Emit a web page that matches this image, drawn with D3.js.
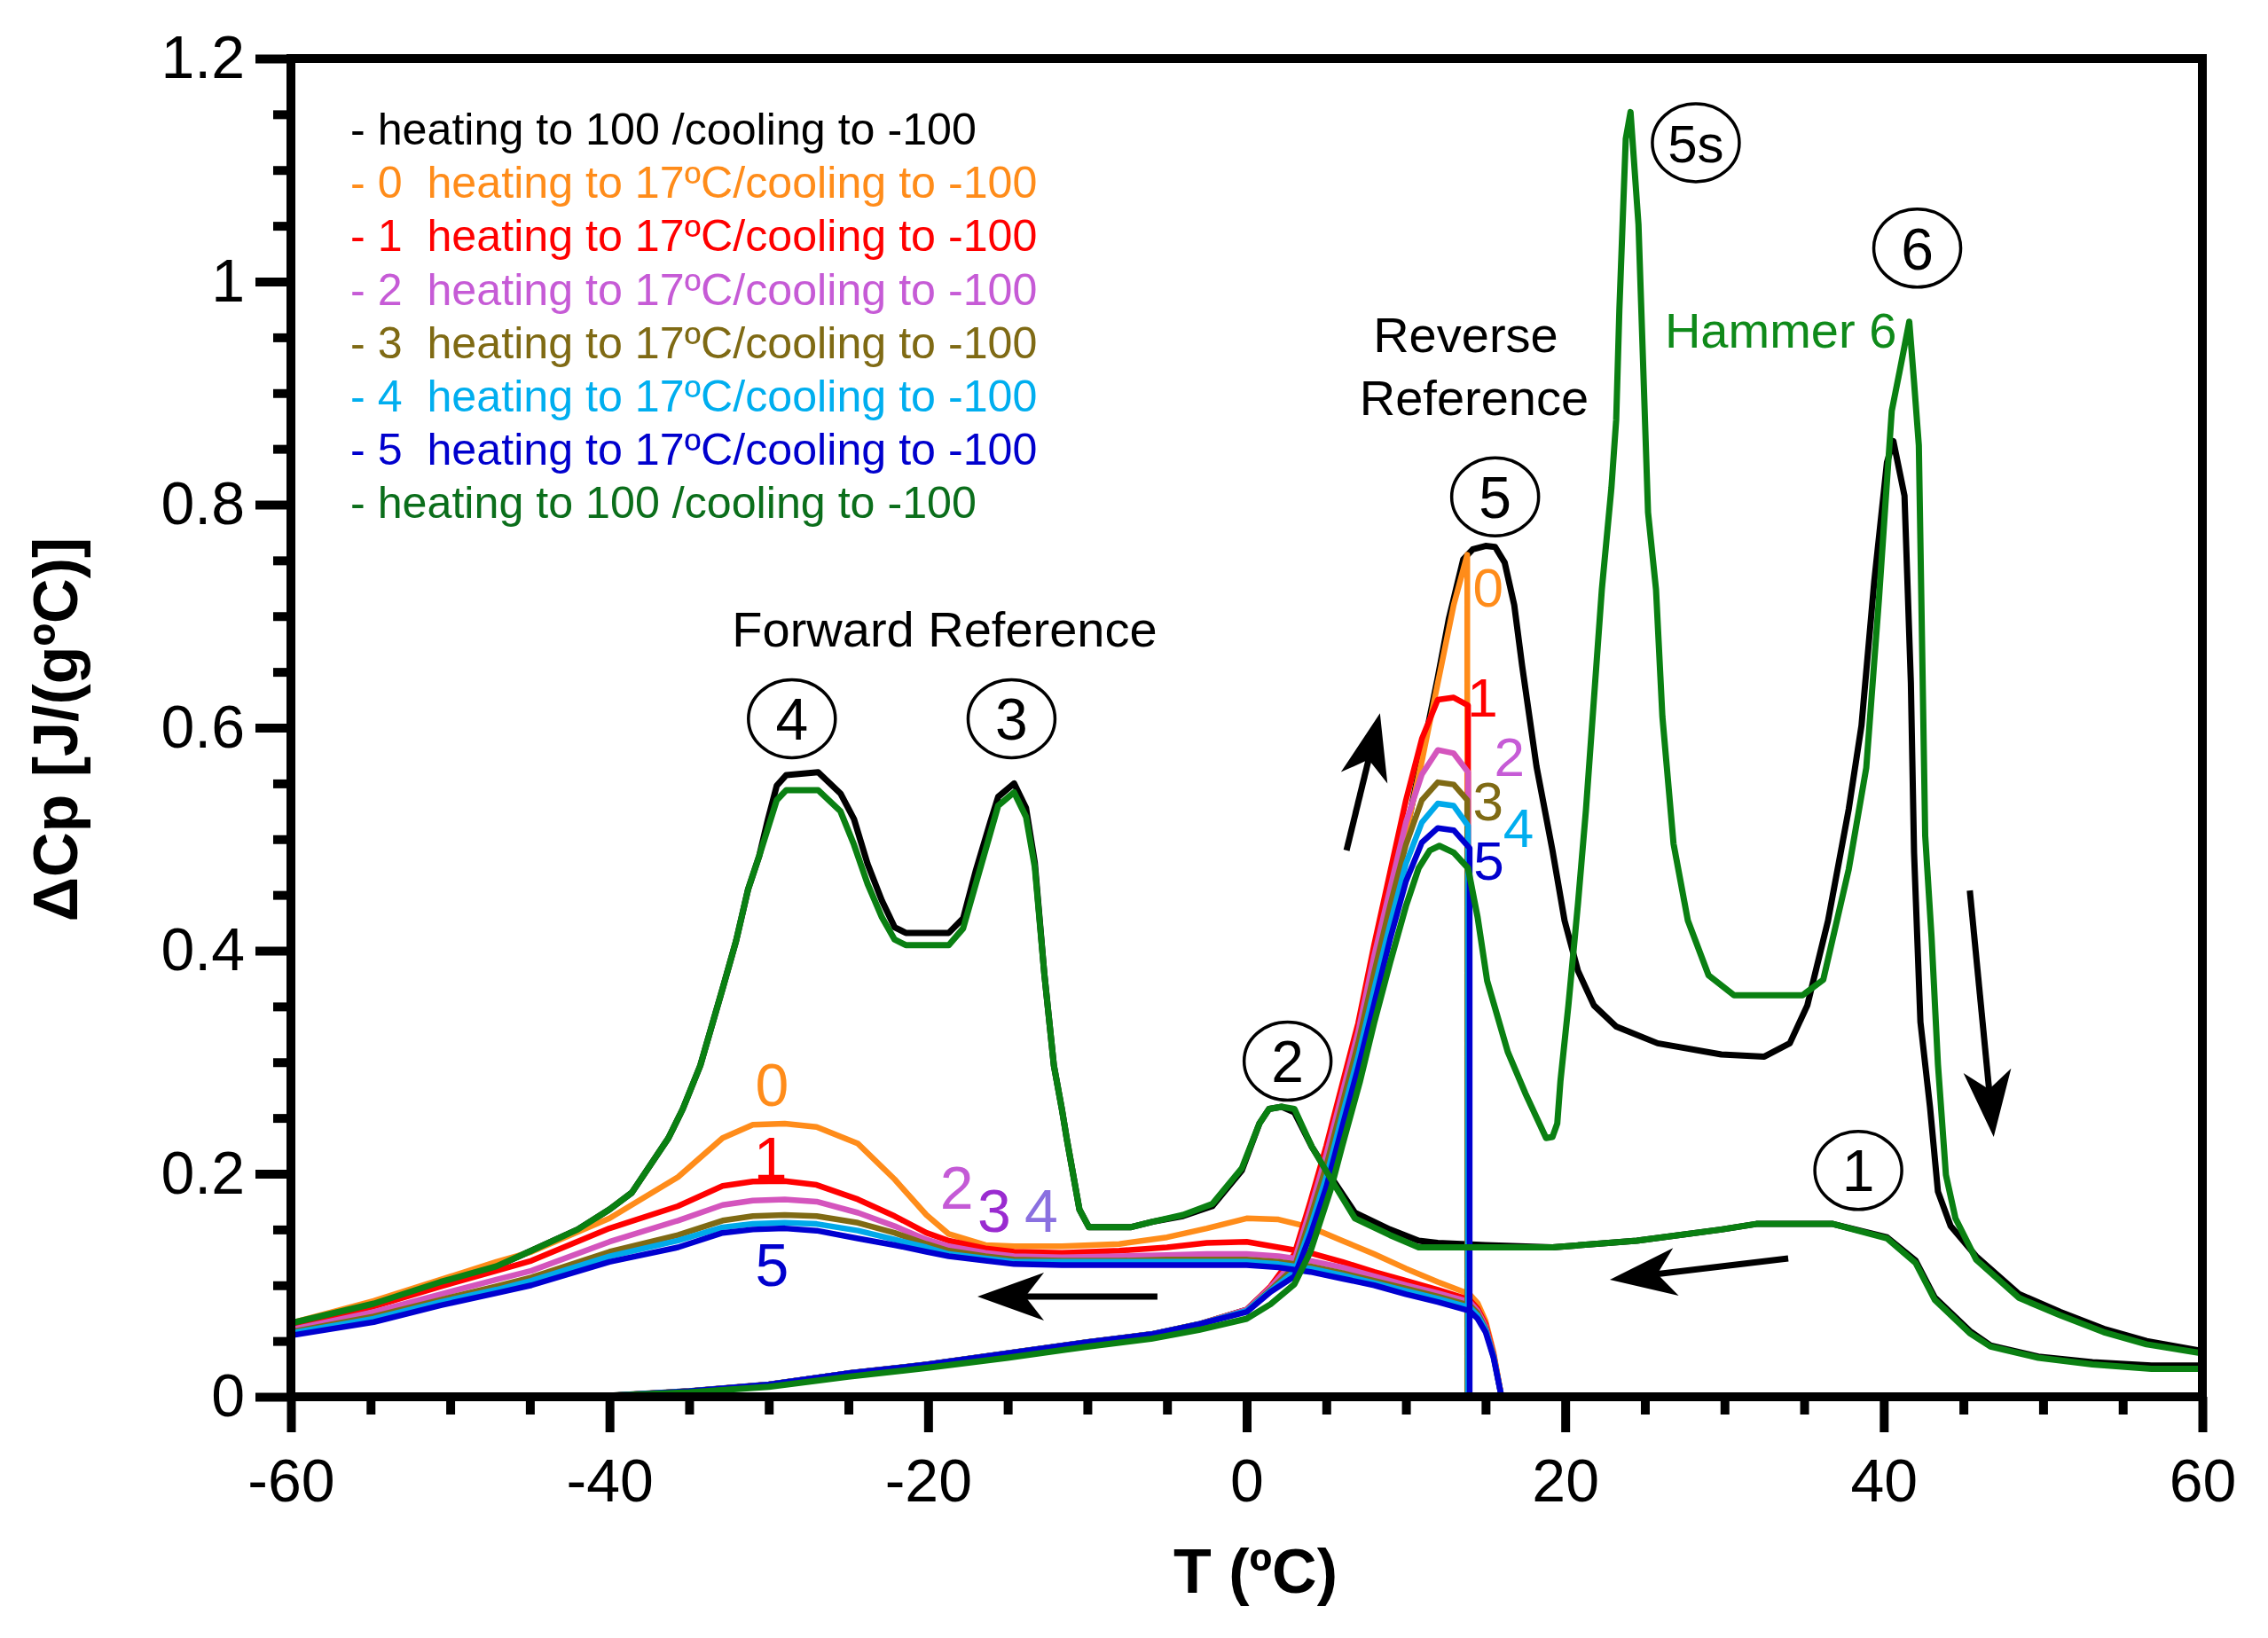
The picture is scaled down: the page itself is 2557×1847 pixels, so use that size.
<!DOCTYPE html>
<html>
<head>
<meta charset="utf-8">
<script src="https://cdn.jsdelivr.net/npm/d3@7"></script>
<style>
  body { margin: 0; background: #fff; }
  text { font-family: "Liberation Sans", Arial, Helvetica, sans-serif; }
</style>
</head>
<body>
<div id="chart"></div>
<script>
(function() {

    var width = 2557;
    var height = 1847;
    var margin = {left: 328, right: 74, top: 66, bottom: 272};

    // axis ticks
    var xTicks = [-60, -40, -20, 0, 20, 40, 60];
    var xMinor = [-55, -50, -45, -35, -30, -25, -15, -10, -5, 5, 10, 15, 25, 30, 35, 45, 50, 55];
    var yTicks = [0, 0.2, 0.4, 0.6, 0.8, 1, 1.2];
    var yMinor = [0.05, 0.1, 0.15, 0.25, 0.3, 0.35, 0.45, 0.5, 0.55, 0.65, 0.7, 0.75,
                  0.85, 0.9, 0.95, 1.05, 1.1, 1.15];

    // heating to 100 / cooling to -100 (black): heating branch
    var blackHeatT = [-44, -40, -35, -30, -25, -20, -15, -10, -6, -3, 0, 1.5, 3, 4, 5, 6, 7, 8, 9, 10,
        10.8, 11.5, 12, 12.7, 13.6, 14.2, 15, 15.6, 16.2, 16.8, 17.3, 18.2, 19.2, 19.96, 20.8, 21.8, 23.2, 25.8, 29.8, 32.5,
        34.1, 35.2, 36.5, 37.8, 38.6, 39.4, 40.2, 40.6, 41.3, 41.7, 41.9, 42.3, 42.9, 43.4, 44.2, 45.8, 48.5, 51.1, 53.8, 56.5, 60];
    var blackHeatCp = [0, 0.001, 0.005, 0.011, 0.021, 0.029, 0.039, 0.049, 0.056, 0.065, 0.078, 0.098, 0.12, 0.155, 0.2, 0.255, 0.315, 0.38, 0.445, 0.505,
        0.56, 0.61, 0.645, 0.698, 0.751, 0.76, 0.763, 0.762, 0.748, 0.71, 0.655, 0.565, 0.49, 0.427, 0.382, 0.351, 0.332, 0.317, 0.307, 0.305,
        0.317, 0.351, 0.427, 0.527, 0.602, 0.731, 0.838, 0.857, 0.808, 0.64, 0.488, 0.336, 0.26, 0.184, 0.153, 0.126, 0.092, 0.076, 0.061, 0.05, 0.041];

    // cooling branch (black and green share temperatures)
    var coolRefT = [60, 56.8, 53.1, 49.7, 46.7, 45.4, 43.2, 42.0, 40.2, 36.8, 32, 29.8, 24.5, 19.2, 15, 12, 10.8, 9.0, 6.8, 5.3,
        4.1, 3.0, 2.2, 1.4, 0.8, -0.3, -2.15, -4, -5.9, -7.3, -9.9, -10.5, -11.3, -11.6, -12.1, -12.7, -13.3, -13.85, -14.6, -15.6,
        -16.1, -17.0, -17.8, -18.7, -21.4, -22.1, -22.9, -23.8, -24.65, -25.5, -26.9, -28.9, -29.5, -30.05, -30.6, -31.3, -32.05, -32.9, -34.3, -35.4,
        -36.3, -38.6, -40, -42, -44.9, -47.1, -50.6, -54.8, -60];
    var blackCoolCp = [0.028, 0.028, 0.031, 0.036, 0.046, 0.059, 0.089, 0.122, 0.143, 0.155, 0.155, 0.15, 0.14, 0.134, 0.136, 0.138, 0.140, 0.150, 0.165, 0.197,
        0.224, 0.255, 0.26, 0.258, 0.245, 0.203, 0.171, 0.162, 0.157, 0.152, 0.152, 0.168, 0.232, 0.258, 0.297, 0.379, 0.479, 0.528, 0.55, 0.538,
        0.515, 0.472, 0.429, 0.416, 0.416, 0.421, 0.445, 0.478, 0.518, 0.541, 0.560, 0.5575, 0.548, 0.518, 0.485, 0.455, 0.409, 0.366, 0.297, 0.258,
        0.232, 0.183, 0.168, 0.15, 0.131, 0.117, 0.103, 0.0835, 0.065];
    var greenCoolCp = [0.025, 0.025, 0.029, 0.035, 0.045, 0.057, 0.087, 0.12, 0.142, 0.155, 0.155, 0.15, 0.14, 0.134, 0.134, 0.134, 0.134, 0.145, 0.16, 0.195,
        0.224, 0.258, 0.26, 0.258, 0.245, 0.205, 0.173, 0.163, 0.157, 0.152, 0.152, 0.168, 0.232, 0.258, 0.297, 0.379, 0.475, 0.52, 0.542, 0.53,
        0.505, 0.46, 0.42, 0.405, 0.405, 0.41, 0.43, 0.46, 0.495, 0.525, 0.544, 0.544, 0.535, 0.51, 0.485, 0.455, 0.409, 0.366, 0.297, 0.258,
        0.232, 0.183, 0.168, 0.15, 0.131, 0.117, 0.103, 0.0835, 0.066];

    // heating to 100 / cooling to -100 (green, Hammer 6): heating branch
    var greenHeatT = [-44, -40, -35, -30, -25, -20, -15, -10, -6, -3, 0, 1.5, 3, 4, 5.3, 6, 7.1, 8, 9, 10,
        10.8, 11.5, 12.1, 13, 13.9, 14.5, 15.1, 16.4, 17.5, 18.8, 19.2, 19.5, 19.7, 20.2, 20.8, 21.3, 21.8, 22.3, 22.9, 23.2,
        23.4, 23.8, 24.1, 24.6, 25.2, 25.7, 26.1, 26.8, 27.7, 29.0, 30.6, 34.9, 36.2, 37.8, 38.9, 39.7, 40.5, 41.0, 41.6, 41.9,
        42.2, 42.6, 43.0, 43.4, 43.9, 44.5, 45.8, 48.5, 51.1, 53.8, 56.5, 60];
    var greenHeatCp = [0, 0.001, 0.004, 0.009, 0.018, 0.026, 0.035, 0.045, 0.052, 0.06, 0.07, 0.083, 0.101, 0.13, 0.187, 0.225, 0.282, 0.335, 0.389, 0.44,
        0.474, 0.49, 0.494, 0.488, 0.474, 0.43, 0.373, 0.309, 0.272, 0.232, 0.233, 0.245, 0.283, 0.351, 0.442, 0.526, 0.625, 0.724, 0.815, 0.876,
        0.975, 1.128, 1.152, 1.051, 0.793, 0.724, 0.61, 0.496, 0.427, 0.378, 0.36, 0.36, 0.374, 0.473, 0.564, 0.716, 0.884, 0.92, 0.964, 0.91,
        0.853, 0.503, 0.412, 0.298, 0.199, 0.16, 0.123, 0.0886, 0.073, 0.058, 0.047, 0.039];

    // heating to 17ºC / cooling to -100, runs 0..5
    var runNames = ["0", "1", "2", "3", "4", "5"];
    var runColors = ["#ff8c1a", "#ff0000", "#d455bd", "#7f6a14", "#00a9ea", "#0000d0"];
    var runLegendColors = ["#ff8c1a", "#ff0000", "#c65bd6", "#7f6a14", "#00aeef", "#0000cd"];
    var runHeatT = [-44, -40, -35, -30, -25, -20, -15, -10, -6, -3, 0, 1.5, 3, 4, 5, 6, 7, 8, 9, 10, 11, 12, 13, 13.85];
    var run0Heat = [0, 0.001, 0.005, 0.011, 0.021, 0.029, 0.039, 0.049, 0.056, 0.065, 0.078, 0.098, 0.12, 0.155, 0.2, 0.255, 0.315, 0.38, 0.445, 0.505, 0.57, 0.64, 0.71, 0.755];
    var run1Heat = [0, 0.001, 0.005, 0.011, 0.021, 0.029, 0.039, 0.049, 0.056, 0.065, 0.078, 0.099, 0.128, 0.175, 0.225, 0.28, 0.335, 0.405, 0.47, 0.535, 0.59, 0.625, 0.627, 0.62];
    var run2Heat = [0, 0.001, 0.005, 0.011, 0.021, 0.029, 0.039, 0.049, 0.056, 0.065, 0.078, 0.098, 0.122, 0.168, 0.217, 0.272, 0.327, 0.395, 0.455, 0.515, 0.558, 0.58, 0.577, 0.56];
    var run3Heat = [0, 0.001, 0.005, 0.011, 0.021, 0.029, 0.039, 0.049, 0.056, 0.065, 0.077, 0.096, 0.116, 0.16, 0.207, 0.262, 0.317, 0.38, 0.44, 0.495, 0.535, 0.551, 0.549, 0.535];
    var run4Heat = [0, 0.001, 0.005, 0.011, 0.021, 0.029, 0.039, 0.049, 0.056, 0.065, 0.077, 0.095, 0.112, 0.152, 0.197, 0.252, 0.305, 0.365, 0.423, 0.478, 0.515, 0.532, 0.53, 0.512];
    var run5Heat = [0, 0.001, 0.005, 0.011, 0.021, 0.029, 0.039, 0.049, 0.056, 0.065, 0.076, 0.094, 0.108, 0.145, 0.188, 0.242, 0.295, 0.352, 0.41, 0.462, 0.497, 0.51, 0.508, 0.492];
    var runCoolT = [16, 15.5, 15, 14.5, 14, 12, 10, 8, 6, 4, 2, 0, -2.5, -5, -8, -11.6, -14.6, -16.4, -18.7, -20.1,
        -22.1, -24.4, -27, -29, -31, -32.9, -35.7, -40, -44.9, -47.1, -50.6, -54.8, -60];
    var run0Cool = [0, 0.04, 0.068, 0.084, 0.092, 0.103, 0.115, 0.128, 0.14, 0.152, 0.159, 0.16, 0.151, 0.143, 0.137, 0.135, 0.135, 0.136, 0.146, 0.163,
        0.195, 0.227, 0.242, 0.245, 0.244, 0.232, 0.197, 0.16, 0.13, 0.121, 0.105, 0.086, 0.066];
    var run1Cool = [0, 0.038, 0.065, 0.079, 0.087, 0.096, 0.104, 0.112, 0.121, 0.129, 0.134, 0.139, 0.138, 0.134, 0.131, 0.129, 0.130, 0.133, 0.140, 0.147,
        0.162, 0.177, 0.19, 0.1935, 0.193, 0.189, 0.171, 0.151, 0.122, 0.113, 0.099, 0.081, 0.063];
    var run2Cool = [0, 0.037, 0.063, 0.077, 0.085, 0.093, 0.1, 0.108, 0.116, 0.122, 0.126, 0.128, 0.128, 0.127, 0.126, 0.125, 0.126, 0.129, 0.135, 0.141,
        0.153, 0.165, 0.175, 0.177, 0.176, 0.172, 0.158, 0.139, 0.113, 0.105, 0.092, 0.076, 0.06];
    var run3Cool = [0, 0.036, 0.061, 0.075, 0.082, 0.09, 0.097, 0.104, 0.111, 0.117, 0.121, 0.123, 0.123, 0.123, 0.122, 0.122, 0.123, 0.126, 0.131, 0.137,
        0.147, 0.156, 0.162, 0.163, 0.162, 0.158, 0.145, 0.13, 0.107, 0.099, 0.087, 0.072, 0.058];
    var run4Cool = [0, 0.036, 0.06, 0.073, 0.08, 0.088, 0.095, 0.102, 0.109, 0.115, 0.119, 0.121, 0.121, 0.121, 0.121, 0.121, 0.121, 0.124, 0.128, 0.134,
        0.141, 0.149, 0.155, 0.156, 0.155, 0.152, 0.14, 0.126, 0.104, 0.096, 0.085, 0.07, 0.057];
    var run5Cool = [0, 0.035, 0.058, 0.07, 0.077, 0.085, 0.092, 0.1, 0.106, 0.112, 0.116, 0.118, 0.118, 0.118, 0.118, 0.118, 0.119, 0.122, 0.126, 0.13,
        0.136, 0.142, 0.149, 0.151, 0.15, 0.147, 0.134, 0.121, 0.1, 0.093, 0.082, 0.067, 0.055];
    var runHeat = [run0Heat, run1Heat, run2Heat, run3Heat, run4Heat, run5Heat];
    var runCool = [run0Cool, run1Cool, run2Cool, run3Cool, run4Cool, run5Cool];
    var runDropT = [13.85, 13.9, 13.9, 13.85, 13.9, 14.0];

    var legendItems = [
        {text: "- heating to 100 /cooling to -100", color: "#000000"},
        {text: "- 0  heating to 17ºC/cooling to -100", color: runLegendColors[0]},
        {text: "- 1  heating to 17ºC/cooling to -100", color: runLegendColors[1]},
        {text: "- 2  heating to 17ºC/cooling to -100", color: runLegendColors[2]},
        {text: "- 3  heating to 17ºC/cooling to -100", color: runLegendColors[3]},
        {text: "- 4  heating to 17ºC/cooling to -100", color: runLegendColors[4]},
        {text: "- 5  heating to 17ºC/cooling to -100", color: runLegendColors[5]},
        {text: "- heating to 100 /cooling to -100", color: "#0b6e1b"}
    ];

    // circled peak labels
    var peakLabels = [
        {t: "4", x: -28.55, y: 0.608}, {t: "3", x: -14.76, y: 0.608}, {t: "2", x: 2.57, y: 0.301},
        {t: "5", x: 15.6, y: 0.807}, {t: "5s", x: 28.2, y: 1.1245}, {t: "6", x: 42.1, y: 1.03},
        {t: "1", x: 38.4, y: 0.203}
    ];
    var runLabelsLeft = [
        {t: "0", x: -29.8, y: 0.261, c: "#ff8c1a"}, {t: "1", x: -29.9, y: 0.195, c: "#ff0000"},
        {t: "5", x: -29.8, y: 0.0994, c: "#0000cd"}, {t: "2", x: -18.2, y: 0.1686, c: "#c45ad6"},
        {t: "3", x: -15.85, y: 0.148, c: "#9a2bd0"}, {t: "4", x: -12.9, y: 0.148, c: "#8a70e0"}
    ];
    var runLabelsRight = [
        {t: "0", x: 15.16, y: 0.7085, c: "#ff8c1a"}, {t: "1", x: 14.81, y: 0.61, c: "#ff0000"},
        {t: "2", x: 16.49, y: 0.5567, c: "#c65bd6"}, {t: "3", x: 15.16, y: 0.517, c: "#7f6a14"},
        {t: "4", x: 17.06, y: 0.493, c: "#00aeef"}, {t: "5", x: 15.2, y: 0.4636, c: "#0000cd"}
    ];
    var textNotes = [
        {t: "Forward Reference", x: -18.96, y: 0.673, anchor: "middle", c: "#000"},
        {t: "Reverse", x: 13.75, y: 0.9368, anchor: "middle", c: "#000"},
        {t: "Reference", x: 14.28, y: 0.8803, anchor: "middle", c: "#000"},
        {t: "Hammer 6", x: 26.25, y: 0.9408, anchor: "start", c: "#0f8a1a"}
    ];
    var arrows = [
        {x1: 6.27, y1: 0.49, x2: 8.37, y2: 0.613},
        {x1: 45.4, y1: 0.454, x2: 46.9, y2: 0.233},
        {x1: -5.6, y1: 0.0898, x2: -16.9, y2: 0.0898},
        {x1: 34.0, y1: 0.124, x2: 22.8, y2: 0.105}
    ];

    var svg = d3.select("#chart").append("svg")
        .attr("width", width)
        .attr("height", height);

    var x = d3.scaleLinear().domain([-60, 60]).range([margin.left, width - margin.right]);
    var y = d3.scaleLinear().domain([0, 1.2]).range([height - margin.bottom, margin.top]);

    var line = d3.line()
        .x(function (d) { return x(d[0]); })
        .y(function (d) { return y(d[1]); });

    var curves = svg.append("g").attr("fill", "none").attr("stroke-linejoin", "round");

    // black
    curves.append("path").attr("d", line(d3.zip(blackHeatT, blackHeatCp)))
        .attr("stroke", "#000").attr("stroke-width", 7);
    curves.append("path").attr("d", line(d3.zip(coolRefT, blackCoolCp)))
        .attr("stroke", "#000").attr("stroke-width", 7);

    // runs 0..5: heat to peak, drop, then cool back from 16 down to -60
    runNames.forEach(function (name, i) {
        var pts = d3.zip(runHeatT, runHeat[i]);
        pts[pts.length - 1][0] = runDropT[i];
        pts.push([runDropT[i], 0]);
        pts = pts.concat(d3.zip(runCoolT, runCool[i]));
        curves.append("path").attr("d", line(pts))
            .attr("stroke", runColors[i]).attr("stroke-width", 6.5);
    });

    // green
    curves.append("path").attr("d", line(d3.zip(greenHeatT, greenHeatCp)))
        .attr("stroke", "#0a8012").attr("stroke-width", 7);
    curves.append("path").attr("d", line(d3.zip(coolRefT, greenCoolCp)))
        .attr("stroke", "#0a8012").attr("stroke-width", 7);

    // axes
    var fmtY = function (d) { return String(+d.toFixed(1)); };
    var fmtX = function (d) { return String(d); };

    function styleAxis(g) {
        g.select(".domain").remove();
        g.selectAll("line").attr("stroke", "#000").attr("stroke-width", 10);
        g.selectAll("text").attr("fill", "#000").style("font-size", "68px")
            .style("font-family", "'Liberation Sans', Arial, sans-serif");
    }

    svg.append("g").attr("transform", "translate(0," + y(0) + ")")
        .call(d3.axisBottom(x).tickValues(xMinor).tickSize(20).tickFormat(""))
        .call(styleAxis);
    svg.append("g").attr("transform", "translate(0," + y(0) + ")")
        .call(d3.axisBottom(x).tickValues(xTicks).tickSize(40).tickPadding(30).tickFormat(fmtX))
        .call(styleAxis);
    svg.append("g").attr("transform", "translate(" + x(-60) + ",0)")
        .call(d3.axisLeft(y).tickValues(yMinor).tickSize(20).tickFormat(""))
        .call(styleAxis);
    svg.append("g").attr("transform", "translate(" + x(-60) + ",0)")
        .call(d3.axisLeft(y).tickValues(yTicks).tickSize(40).tickPadding(12).tickFormat(fmtY))
        .call(styleAxis);

    svg.append("rect")
        .attr("x", x(-60)).attr("y", y(1.2))
        .attr("width", x(60) - x(-60)).attr("height", y(0) - y(1.2))
        .attr("fill", "none").attr("stroke", "#000").attr("stroke-width", 10);

    // axis titles
    svg.append("text")
        .attr("transform", "translate(87," + (y(0.6) + 2) + ") rotate(-90)")
        .attr("text-anchor", "middle")
        .style("font-size", "70px").style("font-weight", "bold")
        .text("ΔCp [J/(gºC)]");
    svg.append("text")
        .attr("x", x(0) + 10).attr("y", 1796)
        .attr("text-anchor", "middle")
        .style("font-size", "70px").style("font-weight", "bold")
        .text("T (ºC)");

    // legend
    svg.append("g").selectAll("text").data(legendItems).enter().append("text")
        .attr("x", 395)
        .attr("y", function (d, i) { return 163 + i * 60.2; })
        .attr("fill", function (d) { return d.color; })
        .style("font-size", "50.2px")
        .style("white-space", "pre")
        .text(function (d) { return d.text; });

    // circled peak labels
    var peaks = svg.append("g").selectAll("g").data(peakLabels).enter().append("g")
        .attr("transform", function (d) { return "translate(" + x(d.x) + "," + y(d.y) + ")"; });
    peaks.append("ellipse").attr("rx", 49).attr("ry", 44)
        .attr("fill", "none").attr("stroke", "#000").attr("stroke-width", 3.5);
    peaks.append("text").attr("text-anchor", "middle").attr("dy", "0.36em")
        .style("font-size", function (d) { return d.t.length > 1 ? "60px" : "66px"; })
        .text(function (d) { return d.t; });

    // run number labels
    svg.append("g").selectAll("text").data(runLabelsLeft.concat(runLabelsRight)).enter().append("text")
        .attr("x", function (d) { return x(d.x); })
        .attr("y", function (d) { return y(d.y); })
        .attr("text-anchor", "middle")
        .attr("fill", function (d) { return d.c; })
        .style("font-size", function (d, i) { return i < runLabelsLeft.length ? "68px" : "62px"; })
        .text(function (d) { return d.t; });

    // text notes
    svg.append("g").selectAll("text").data(textNotes).enter().append("text")
        .attr("x", function (d) { return x(d.x); })
        .attr("y", function (d) { return y(d.y); })
        .attr("text-anchor", function (d) { return d.anchor; })
        .attr("fill", function (d) { return d.c; })
        .style("font-size", "56px")
        .text(function (d) { return d.t; });

    // arrows
    var L = 75, W = 54;
    var ag = svg.append("g").selectAll("g").data(arrows).enter().append("g")
        .attr("transform", function (d) {
            var ang = Math.atan2(y(d.y2) - y(d.y1), x(d.x2) - x(d.x1)) * 180 / Math.PI;
            return "translate(" + x(d.x2) + "," + y(d.y2) + ") rotate(" + ang + ")";
        });
    ag.append("line")
        .attr("x1", function (d) {
            return -Math.hypot(x(d.x2) - x(d.x1), y(d.y2) - y(d.y1));
        })
        .attr("x2", -0.7 * L).attr("y1", 0).attr("y2", 0)
        .attr("stroke", "#000").attr("stroke-width", 7);
    ag.append("path")
        .attr("d", "M0,0L" + (-L) + "," + (-W / 2) + "L" + (-0.72 * L) + ",0L" + (-L) + "," + (W / 2) + "Z")
        .attr("fill", "#000");

})();
</script>
</body>
</html>
